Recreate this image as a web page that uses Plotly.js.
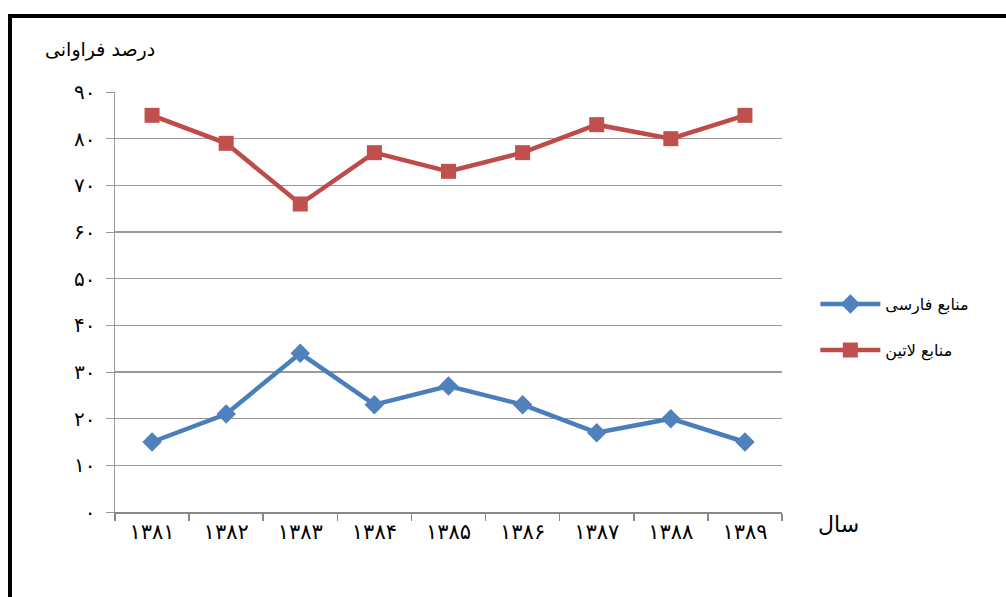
<!DOCTYPE html>
<html><head><meta charset="utf-8">
<script src="https://cdn.plot.ly/plotly-3.0.1.min.js"></script>
<style>
body{margin:0;padding:0;background:#fff;}
#wrap{position:relative;width:1006px;height:597px;overflow:hidden;}
#chart{position:absolute;left:0;top:0;width:1006px;height:597px;}
#frame{position:absolute;left:8px;top:14px;right:-10px;bottom:-10px;border-left:4px solid #000;border-top:4px solid #000;pointer-events:none;}
</style></head>
<body><div id="wrap"><div id="chart"></div><div id="frame"></div></div>
<script>
const years = ['۱۳۸۱','۱۳۸۲','۱۳۸۳','۱۳۸۴','۱۳۸۵','۱۳۸۶','۱۳۸۷','۱۳۸۸','۱۳۸۹'];
const persianSources = [15, 21, 34, 23, 27, 23, 17, 20, 15];
const latinSources = [85, 79, 66, 77, 73, 77, 83, 80, 85];
const yTickVals = [0,10,20,30,40,50,60,70,80,90];
const yTickText = ['۰','۱۰','۲۰','۳۰','۴۰','۵۰','۶۰','۷۰','۸۰','۹۰'];
const seriesNames = ['منابع فارسی','منابع لاتین'];

const font = "DejaVu Sans, Noto Sans, sans-serif";
const traces = [
  {x: years, y: persianSources, name: seriesNames[0], type:'scatter', mode:'lines+markers',
   legendgroup:'a',
   line:{color:'#4A7EBB', width:4.5}, marker:{symbol:'diamond', size:15, color:'#4F81BD'}},
  {x: years, y: latinSources, name: seriesNames[1], type:'scatter', mode:'lines+markers',
   legendgroup:'b',
   line:{color:'#BE4B48', width:4.5}, marker:{symbol:'square', size:15, color:'#C0504D'}}
];
const layout = {
  width:1006, height:597,
  margin:{l:115, r:224, t:92, b:85},
  paper_bgcolor:'#fff', plot_bgcolor:'#fff',
  showlegend:true,
  legend:{x:1.05, y:0.44, xanchor:'left', yanchor:'middle', font:{family:font, size:16, color:'#000'},
          traceorder:'grouped', tracegroupgap:22, itemwidth:60},
  xaxis:{type:'category', tickson:'boundaries', ticks:'outside', ticklen:7, tickcolor:'#888', tickwidth:1.5,
         showline:true, linecolor:'#888', linewidth:1.5, showgrid:false, zeroline:false,
         tickfont:{family:font, size:21, color:'#000'}, range:[-0.5, 8.5]},
  yaxis:{range:[0,90], tickvals:yTickVals, ticktext:yTickText, ticks:'outside', ticklen:8, tickcolor:'#999',
         showline:true, linecolor:'#999', linewidth:1.5, showgrid:true, gridcolor:'#999', gridwidth:1.2,
         zeroline:false, tickfont:{family:font, size:20, color:'#000'}, ticklabelstandoff:6},
  annotations:[
    {text:'درصد فراوانی', xref:'paper', yref:'paper', x:-0.0225, y:1.10, xanchor:'center', yanchor:'middle',
     showarrow:false, font:{family:font, size:19, color:'#000'}},
    {text:'سال', xref:'paper', yref:'paper', x:1.084, y:-0.03, xanchor:'center', yanchor:'middle',
     showarrow:false, font:{family:font, size:22, color:'#000'}}
  ]
};
Plotly.newPlot('chart', traces, layout, {displayModeBar:false, staticPlot:true});
</script></body></html>
